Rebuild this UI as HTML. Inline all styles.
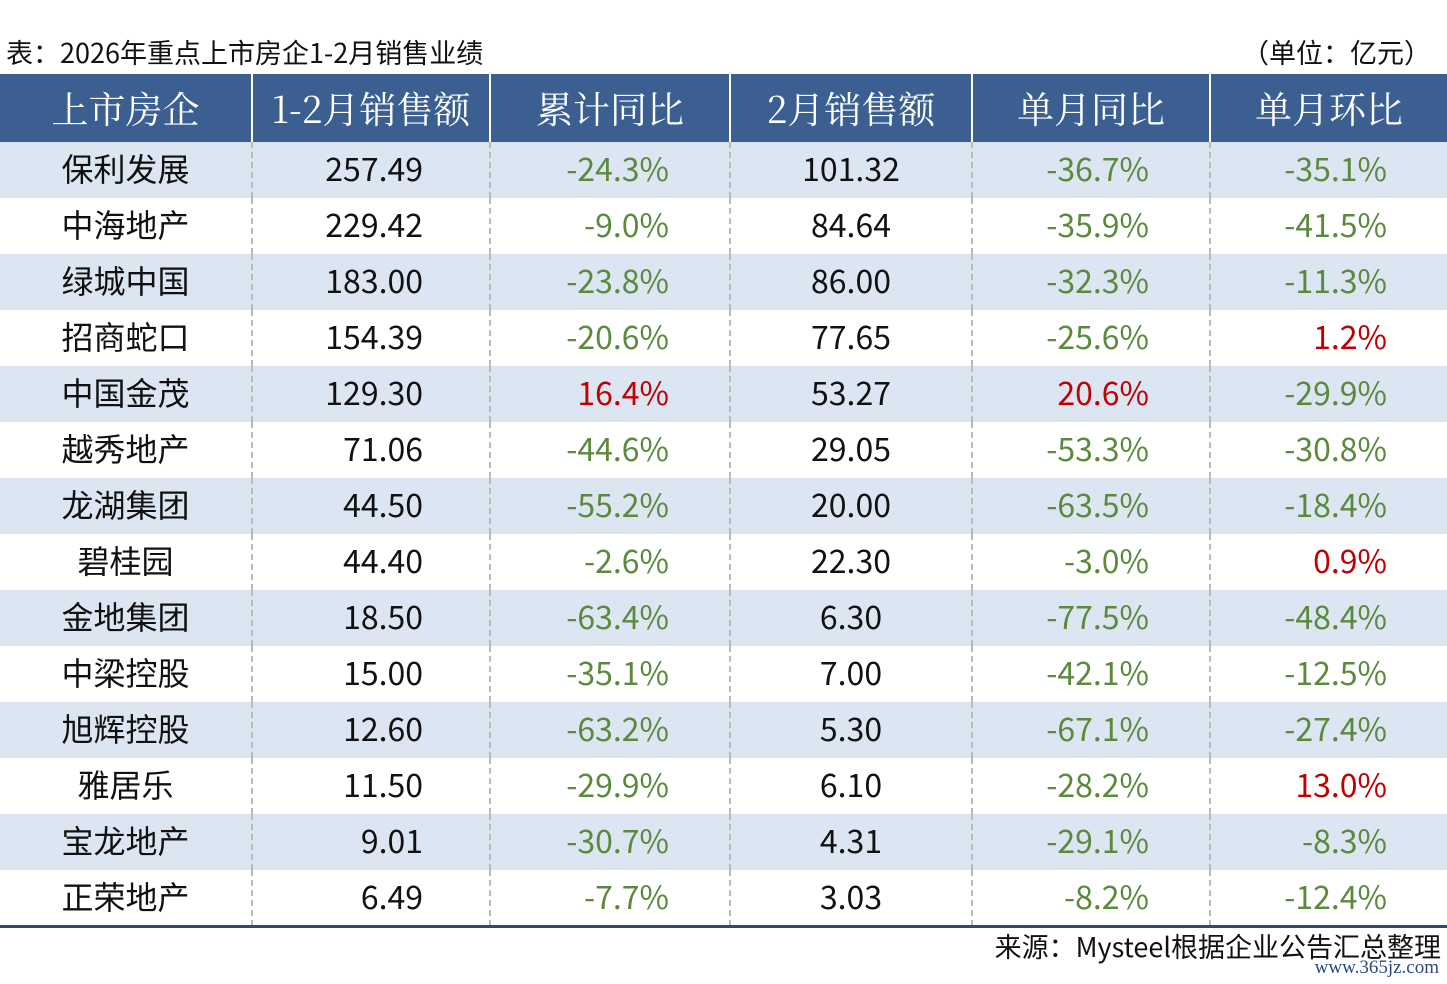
<!DOCTYPE html>
<html><head><meta charset="utf-8"><style>
body{margin:0;width:1447px;height:984px;background:#fff;position:relative;overflow:hidden;font-family:"Noto Sans CJK SC",sans-serif}
.t{position:absolute;top:33px;left:6px;font-size:27px;color:#111;line-height:38px}
.u{position:absolute;top:33px;right:16px;font-size:27px;color:#111;line-height:38px}
table{position:absolute;top:74px;left:0;border-collapse:collapse;table-layout:fixed;width:1447px}
th{background:#3a5f90;color:#fff;height:66px;font-family:"Noto Serif CJK SC",serif;font-weight:normal;font-size:37px;border-left:2px solid #fff;padding:0 0 2px 0;line-height:42px}
th:first-child{border-left:none}
td{height:51px;padding:0 0 5px 0;font-size:32px;color:#111;border-left:2px dashed #bbb;text-align:right;line-height:40px}
td:first-child{border-left:none;text-align:center}
tr:nth-child(even) td{background:#dce6f2}
td:nth-child(2){padding-right:66px}
td:nth-child(3),td:nth-child(5),td:nth-child(6){padding-right:60px;color:#5b8a3c}
td:nth-child(4){text-align:center}
td.r{color:#c00000!important}
.line{position:absolute;top:925px;left:0;width:1447px;height:3px;background:#2e4a6e}
.s{position:absolute;top:927px;right:6px;font-size:27px;color:#111;line-height:38px}
.w{position:absolute;top:957px;right:8px;font-size:19px;color:#2a4a80;font-family:"Liberation Serif",serif}
</style></head><body>
<div class="t">表：2026年重点上市房企1-2月销售业绩</div>
<div class="u">（单位：亿元）</div>
<table>
<colgroup><col style="width:252px"><col style="width:238px"><col style="width:240px"><col style="width:242px"><col style="width:238px"><col style="width:237px"></colgroup>
<tr><th>上市房企</th><th>1-2月销售额</th><th>累计同比</th><th>2月销售额</th><th>单月同比</th><th>单月环比</th></tr>
<tr><td>保利发展</td><td>257.49</td><td>-24.3%</td><td>101.32</td><td>-36.7%</td><td>-35.1%</td></tr>
<tr><td>中海地产</td><td>229.42</td><td>-9.0%</td><td>84.64</td><td>-35.9%</td><td>-41.5%</td></tr>
<tr><td>绿城中国</td><td>183.00</td><td>-23.8%</td><td>86.00</td><td>-32.3%</td><td>-11.3%</td></tr>
<tr><td>招商蛇口</td><td>154.39</td><td>-20.6%</td><td>77.65</td><td>-25.6%</td><td class="r">1.2%</td></tr>
<tr><td>中国金茂</td><td>129.30</td><td class="r">16.4%</td><td>53.27</td><td class="r">20.6%</td><td>-29.9%</td></tr>
<tr><td>越秀地产</td><td>71.06</td><td>-44.6%</td><td>29.05</td><td>-53.3%</td><td>-30.8%</td></tr>
<tr><td>龙湖集团</td><td>44.50</td><td>-55.2%</td><td>20.00</td><td>-63.5%</td><td>-18.4%</td></tr>
<tr><td>碧桂园</td><td>44.40</td><td>-2.6%</td><td>22.30</td><td>-3.0%</td><td class="r">0.9%</td></tr>
<tr><td>金地集团</td><td>18.50</td><td>-63.4%</td><td>6.30</td><td>-77.5%</td><td>-48.4%</td></tr>
<tr><td>中梁控股</td><td>15.00</td><td>-35.1%</td><td>7.00</td><td>-42.1%</td><td>-12.5%</td></tr>
<tr><td>旭辉控股</td><td>12.60</td><td>-63.2%</td><td>5.30</td><td>-67.1%</td><td>-27.4%</td></tr>
<tr><td>雅居乐</td><td>11.50</td><td>-29.9%</td><td>6.10</td><td>-28.2%</td><td class="r">13.0%</td></tr>
<tr><td>宝龙地产</td><td>9.01</td><td>-30.7%</td><td>4.31</td><td>-29.1%</td><td>-8.3%</td></tr>
<tr><td>正荣地产</td><td>6.49</td><td>-7.7%</td><td>3.03</td><td>-8.2%</td><td>-12.4%</td></tr>
</table>
<div class="line"></div>
<div class="s">来源：Mysteel根据企业公告汇总整理</div>
<div class="w">www.365jz.com</div>
</body></html>
